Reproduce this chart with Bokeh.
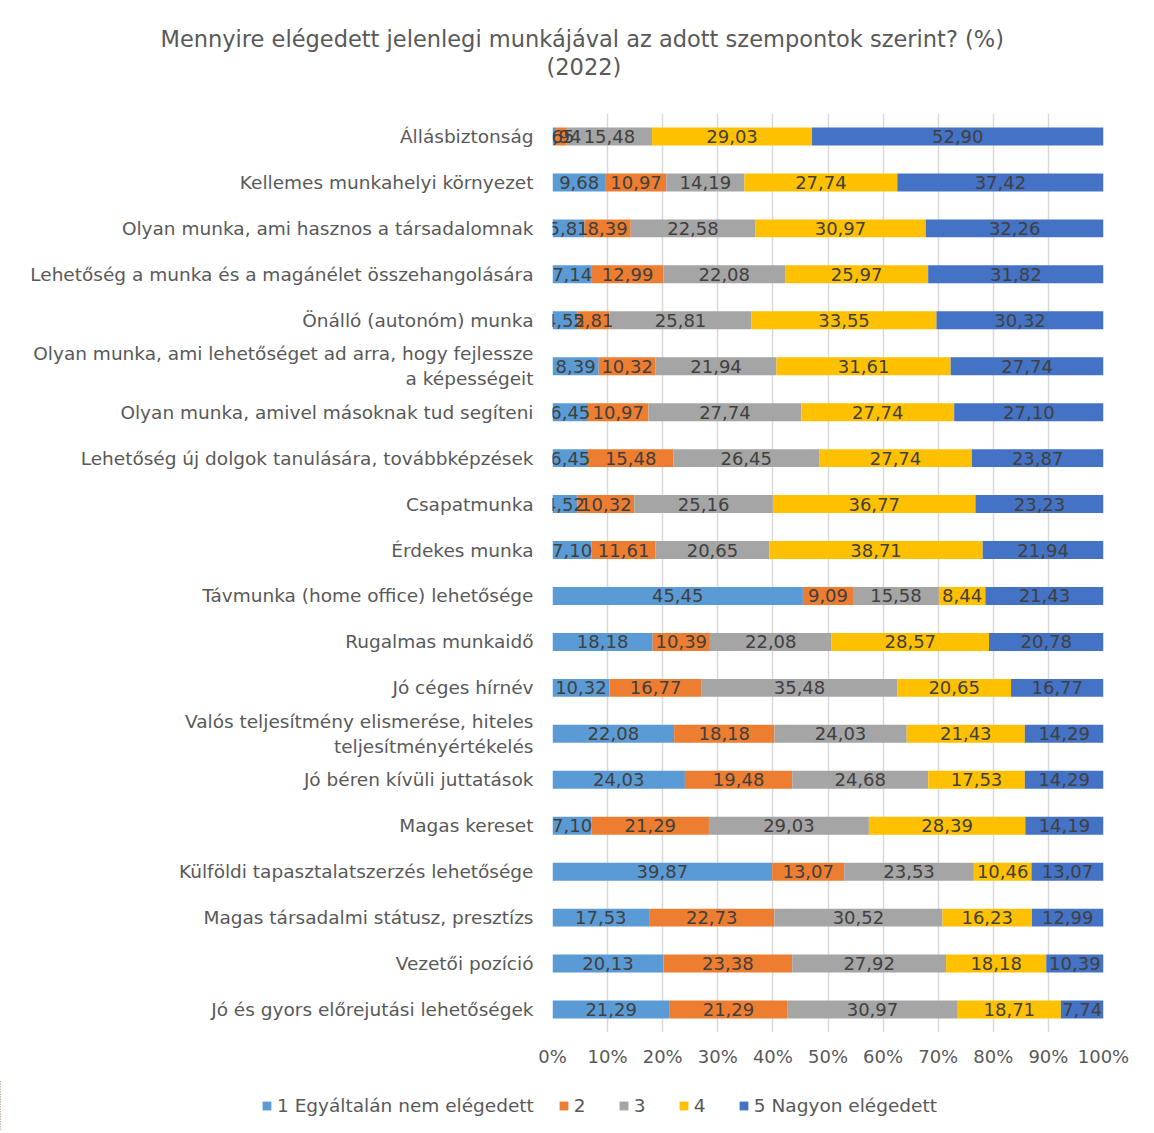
from bokeh.plotting import figure
from bokeh.models import ColumnDataSource, Legend, LegendItem, Title, FactorRange, FixedTicker
from bokeh.embed import file_html
from bokeh.resources import INLINE
from bokeh.core.properties import value

title_lines = ["Mennyire elégedett jelenlegi munkájával az adott szempontok szerint? (%)", "(2022)"]

categories = [
    "Állásbiztonság",
    "Kellemes munkahelyi környezet",
    "Olyan munka, ami hasznos a társadalomnak",
    "Lehetőség a munka és a magánélet összehangolására",
    "Önálló (autonóm) munka",
    "Olyan munka, ami lehetőséget ad arra, hogy fejlessze\na képességeit",
    "Olyan munka, amivel másoknak tud segíteni",
    "Lehetőség új dolgok tanulására, továbbképzések",
    "Csapatmunka",
    "Érdekes munka",
    "Távmunka (home office) lehetősége",
    "Rugalmas munkaidő",
    "Jó céges hírnév",
    "Valós teljesítmény elismerése, hiteles\nteljesítményértékelés",
    "Jó béren kívüli juttatások",
    "Magas kereset",
    "Külföldi tapasztalatszerzés lehetősége",
    "Magas társadalmi státusz, presztízs",
    "Vezetői pozíció",
    "Jó és gyors előrejutási lehetőségek",
]

s1 = [0.65, 9.68, 5.81, 7.14, 4.52, 8.39, 6.45, 6.45, 4.52, 7.10, 45.45, 18.18, 10.32, 22.08, 24.03, 7.10, 39.87, 17.53, 20.13, 21.29]
s2 = [1.94, 10.97, 8.39, 12.99, 5.81, 10.32, 10.97, 15.48, 10.32, 11.61, 9.09, 10.39, 16.77, 18.18, 19.48, 21.29, 13.07, 22.73, 23.38, 21.29]
s3 = [15.48, 14.19, 22.58, 22.08, 25.81, 21.94, 27.74, 26.45, 25.16, 20.65, 15.58, 22.08, 35.48, 24.03, 24.68, 29.03, 23.53, 30.52, 27.92, 30.97]
s4 = [29.03, 27.74, 30.97, 25.97, 33.55, 31.61, 27.74, 27.74, 36.77, 38.71, 8.44, 28.57, 20.65, 21.43, 17.53, 28.39, 10.46, 16.23, 18.18, 18.71]
s5 = [52.90, 37.42, 32.26, 31.82, 30.32, 27.74, 27.10, 23.87, 23.23, 21.94, 21.43, 20.78, 16.77, 14.29, 14.29, 14.19, 13.07, 12.99, 10.39, 7.74]

series_names = ["1 Egyáltalán nem elégedett", "2", "3", "4", "5 Nagyon elégedett"]
series_colors = ["#5B9BD5", "#ED7D31", "#A5A5A5", "#FFC000", "#4472C4"]
x_ticks = [0, 10, 20, 30, 40, 50, 60, 70, 80, 90, 100]

FONT = "DejaVu Sans"
TXT = "#595959"

series = [s1, s2, s3, s4, s5]
factors = list(reversed(categories))

p = figure(width=1150, height=1080, y_range=FactorRange(factors=factors), x_range=(0, 100),
           output_backend="svg", toolbar_location=None,
           min_border_left=552, min_border_right=47, min_border_top=113, min_border_bottom=48)
p.outline_line_color = None
p.background_fill_color = "white"

# legend strip (separate root; its bars lie outside its visible x range, only the legend shows)
lf = figure(width=1150, height=50, x_range=(150, 250), y_range=FactorRange(factors=factors),
            output_backend="svg", toolbar_location=None,
            min_border_left=0, min_border_right=0, min_border_top=0, min_border_bottom=0)
lf.axis.visible = False
lf.grid.visible = False
lf.outline_line_color = None

left = [0.0] * len(categories)
lab_x, lab_y, lab_t = [], [], []
leg_items = []
for vals, name, col in zip(series, series_names, series_colors):
    right = [l + v for l, v in zip(left, vals)]
    src = ColumnDataSource(dict(y=categories, left=left, right=right))
    p.hbar(y="y", left="left", right="right", height=0.39, source=src,
           fill_color=col, line_color=None)
    lr = lf.hbar(y="y", left="left", right="right", height=0.39, source=src,
                 fill_color=col, line_color=None)
    leg_items.append(LegendItem(label=name, renderers=[lr]))
    for c, l, v in zip(categories, left, vals):
        lab_x.append(l + v / 2)
        lab_y.append(c)
        lab_t.append(f"{v:.2f}".replace(".", ","))
    left = right

lsrc = ColumnDataSource(dict(x=lab_x, y=lab_y, t=lab_t))
p.text(x="x", y="y", text="t", source=lsrc, text_align="center", text_baseline="middle",
       text_font=value(FONT), text_font_size="18px", text_color="#404040")

# grid / axes
p.ygrid.grid_line_color = None
p.xgrid.grid_line_color = "#D9D9D9"
p.xgrid.grid_line_width = 1.5
p.xaxis.ticker = FixedTicker(ticks=x_ticks)
p.xaxis.major_label_overrides = {t: f"{t}%" for t in x_ticks}
for ax in (p.xaxis, p.yaxis):
    ax.axis_line_color = None
    ax.major_tick_line_color = None
    ax.minor_tick_line_color = None
    ax.major_label_text_font = FONT
    ax.major_label_text_color = TXT
p.yaxis.major_label_text_font_size = "18.5px"
p.xaxis.major_label_text_font_size = "18px"
p.xaxis.major_label_standoff = 7
p.yaxis.major_label_standoff = 13

# title lines (first added is nearest to the frame)
p.add_layout(Title(text=" ", text_font_size="20px"), "above")
p.add_layout(Title(text=title_lines[1], align="left", offset=-6, text_font=FONT,
                   text_font_size="22.5px", text_font_style="normal", text_color=TXT, standoff=0), "above")
p.add_layout(Title(text=title_lines[0], align="left", offset=-392, text_font=FONT,
                   text_font_size="22.5px", text_font_style="normal", text_color=TXT, standoff=0), "above")

legend = Legend(items=leg_items, location=(261, 14), orientation="horizontal",
                glyph_width=11, glyph_height=11, label_standoff=5, spacing=24,
                label_text_font=FONT, label_text_font_size="18.5px", label_text_color=TXT,
                border_line_color=None, background_fill_alpha=0)
lf.add_layout(legend, "center")

open("out.html", "w").write(file_html([p, lf], INLINE))
